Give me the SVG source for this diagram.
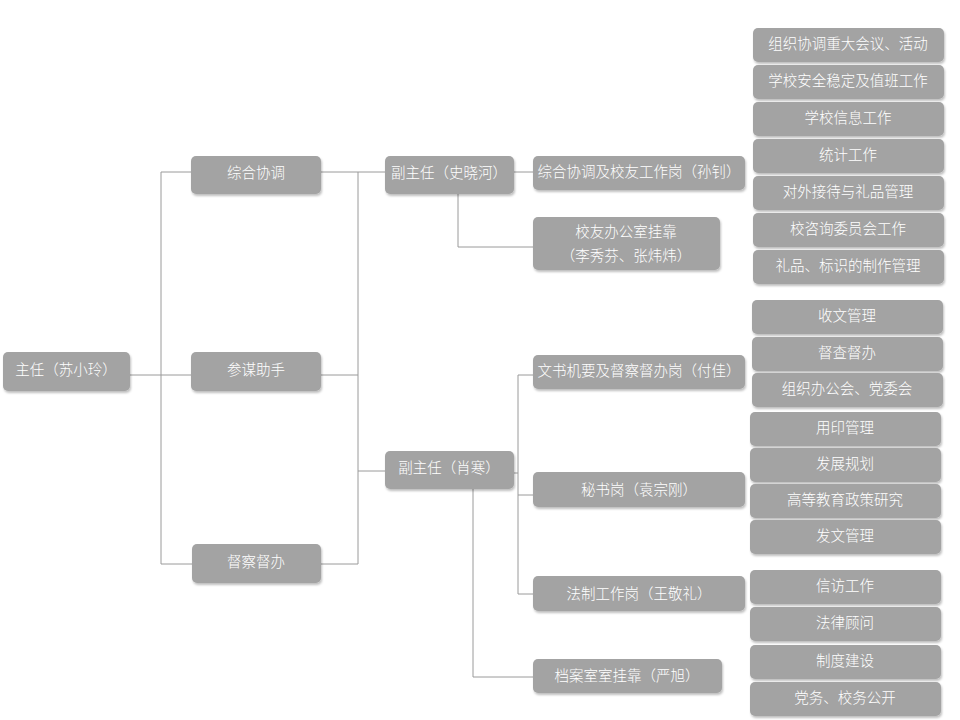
<svg xmlns="http://www.w3.org/2000/svg" width="960" height="720" viewBox="0 0 960 720">
<defs>
<filter id="sh" x="-10%" y="-20%" width="130%" height="160%">
<feDropShadow dx="1" dy="2" stdDeviation="1.2" flood-color="#000" flood-opacity="0.25"/>
</filter>
<style>
.b{fill:#a3a3a3;filter:url(#sh)}
.t{fill:#ffffff;font-family:"Noto Sans CJK SC","Microsoft YaHei",sans-serif;font-size:14.5px;font-weight:300;text-anchor:middle;dominant-baseline:central}
.c{fill:none;stroke:#9a9a9a;stroke-width:1}
</style>
</defs>
<rect width="960" height="720" fill="#ffffff"/>
<g id="connectors">
<path class="c" d="M130,375H161M161,172V564M161,172H191M161,375H191M161,564H192"/>
<path class="c" d="M321,172H358M321,375H358M321,564H358M358,172V564M358,172H385M358,471H385"/>
<path class="c" d="M514,172H533M458,194V247H533"/>
<path class="c" d="M514,473H518M518,375V594M518,375H533M518,495H533M518,594H533M473,489V677H533"/>
</g>
<g id="n-zhuren"><rect class="b" x="3" y="352" width="127" height="39" rx="5"/><text class="t" x="66" y="368">主任（苏小玲）</text></g>
<g id="n-zonghe"><rect class="b" x="191" y="156" width="130" height="38" rx="5"/><text class="t" x="256" y="171">综合协调</text></g>
<g id="n-canmou"><rect class="b" x="191" y="352" width="130" height="39" rx="5"/><text class="t" x="256" y="368">参谋助手</text></g>
<g id="n-ducha"><rect class="b" x="192" y="544" width="129" height="39" rx="5"/><text class="t" x="256" y="560">督察督办</text></g>
<g id="n-fu1"><rect class="b" x="385" y="156" width="129" height="38" rx="5"/><text class="t" x="449" y="171">副主任（史晓河）</text></g>
<g id="n-fu2"><rect class="b" x="385" y="451" width="129" height="38" rx="5"/><text class="t" x="449" y="466">副主任（肖寒）</text></g>
<g id="n-zhgw"><rect class="b" x="533" y="156" width="212" height="34" rx="5"/><text class="t" x="639" y="170">综合协调及校友工作岗（孙钊）</text></g>
<g id="n-xiaoyou"><rect class="b" x="533" y="217" width="187" height="53" rx="5"/><text class="t" x="626" y="230">校友办公室挂靠</text><text class="t" x="626" y="254">（李秀芬、张炜炜）</text></g>
<g id="n-wenshu"><rect class="b" x="533" y="355" width="212" height="34" rx="5"/><text class="t" x="639" y="369">文书机要及督察督办岗（付佳）</text></g>
<g id="n-mishu"><rect class="b" x="533" y="472" width="212" height="35" rx="5"/><text class="t" x="639" y="488">秘书岗（袁宗刚）</text></g>
<g id="n-fazhi"><rect class="b" x="533" y="576" width="212" height="35" rx="5"/><text class="t" x="639" y="592">法制工作岗（王敬礼）</text></g>
<g id="n-dangan"><rect class="b" x="533" y="659" width="189" height="34" rx="5"/><text class="t" x="627" y="674">档案室室挂靠（严旭）</text></g>
<g id="r1"><rect class="b" x="753" y="28" width="191" height="34" rx="5"/><text class="t" x="848" y="42">组织协调重大会议、活动</text></g>
<g id="r2"><rect class="b" x="753" y="65" width="191" height="34" rx="5"/><text class="t" x="848" y="79">学校安全稳定及值班工作</text></g>
<g id="r3"><rect class="b" x="753" y="102" width="191" height="34" rx="5"/><text class="t" x="848" y="116">学校信息工作</text></g>
<g id="r4"><rect class="b" x="753" y="139" width="191" height="34" rx="5"/><text class="t" x="848" y="153">统计工作</text></g>
<g id="r5"><rect class="b" x="753" y="176" width="191" height="34" rx="5"/><text class="t" x="848" y="190">对外接待与礼品管理</text></g>
<g id="r6"><rect class="b" x="753" y="213" width="191" height="34" rx="5"/><text class="t" x="848" y="227">校咨询委员会工作</text></g>
<g id="r7"><rect class="b" x="753" y="250" width="191" height="34" rx="5"/><text class="t" x="848" y="264">礼品、标识的制作管理</text></g>
<g id="r8"><rect class="b" x="752" y="300" width="191" height="34" rx="5"/><text class="t" x="847" y="314">收文管理</text></g>
<g id="r9"><rect class="b" x="752" y="337" width="191" height="34" rx="5"/><text class="t" x="847" y="351">督查督办</text></g>
<g id="r10"><rect class="b" x="752" y="373" width="191" height="34" rx="5"/><text class="t" x="847" y="387">组织办公会、党委会</text></g>
<g id="r11"><rect class="b" x="750" y="412" width="191" height="34" rx="5"/><text class="t" x="845" y="426">用印管理</text></g>
<g id="r12"><rect class="b" x="750" y="448" width="191" height="34" rx="5"/><text class="t" x="845" y="462">发展规划</text></g>
<g id="r13"><rect class="b" x="750" y="484" width="191" height="34" rx="5"/><text class="t" x="845" y="498">高等教育政策研究</text></g>
<g id="r14"><rect class="b" x="750" y="520" width="191" height="34" rx="5"/><text class="t" x="845" y="534">发文管理</text></g>
<g id="r15"><rect class="b" x="750" y="570" width="191" height="34" rx="5"/><text class="t" x="845" y="584">信访工作</text></g>
<g id="r16"><rect class="b" x="750" y="607" width="191" height="34" rx="5"/><text class="t" x="845" y="621">法律顾问</text></g>
<g id="r17"><rect class="b" x="750" y="645" width="191" height="34" rx="5"/><text class="t" x="845" y="659">制度建设</text></g>
<g id="r18"><rect class="b" x="750" y="682" width="191" height="34" rx="5"/><text class="t" x="845" y="696">党务、校务公开</text></g>
</svg>
